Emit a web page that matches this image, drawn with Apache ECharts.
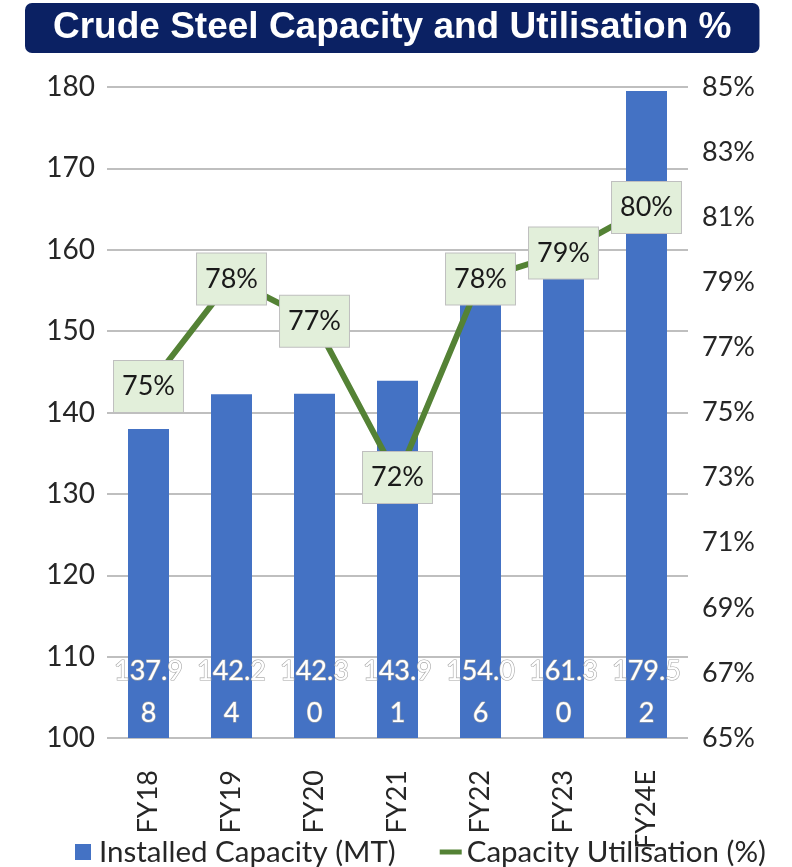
<!DOCTYPE html>
<html>
<head>
<meta charset="utf-8">
<script src="https://cdn.jsdelivr.net/npm/echarts@6/dist/echarts.min.js"></script>
<style>
  html, body { margin: 0; padding: 0; background: #fff; }
  #main { width: 792px; height: 867px; }
</style>
</head>
<body>
<div id="main"></div>
<script>
// data
var years = ['FY18', 'FY19', 'FY20', 'FY21', 'FY22', 'FY23', 'FY24E'];
var capacity = [137.98, 142.24, 142.30, 143.91, 154.06, 161.30, 179.52];
// where the green line sits against the right-hand axis
var utilisation = [75.8, 79.1, 77.8, 73.0, 79.1, 79.9, 81.3];
// the text printed in the green boxes
var utilLabels = ['75%', '78%', '77%', '72%', '78%', '79%', '80%'];

var FONT = 'Lato, "Open Sans", sans-serif';

var myChart = echarts.init(document.getElementById('main'));

var option = {
    animation: false,
    title: {
        text: 'Crude Steel Capacity and Utilisation %',
        left: 25,
        top: 3,
        padding: [6, 28, 6, 28],
        backgroundColor: '#0b2163',
        borderRadius: 7,
        textStyle: {
            color: '#fff',
            fontFamily: 'Liberation Sans, Arial, sans-serif',
            fontWeight: 'bold',
            fontSize: 37,
            lineHeight: 38
        }
    },
    legend: {
        top: 832,
        left: 70,
        itemGap: 44,
        itemWidth: 22,
        itemHeight: 16,
        textStyle: { fontFamily: FONT, fontSize: 29.5, color: '#262626' },
        data: [
            { name: 'Installed Capacity (MT)', icon: 'path://M0,0H10V10H0Z' },
            { name: 'Capacity Utilisation (%)', icon: 'path://M0,0H22V5H0Z' }
        ]
    },
    grid: {
        left: 107,
        right: 104,
        top: 87,
        bottom: 129
    },
    xAxis: {
        type: 'category',
        data: years,
        axisLine: { show: false },
        axisTick: { show: false },
        axisLabel: {
            rotate: 90,
            margin: 32,
            fontFamily: FONT,
            fontSize: 27,
            color: '#262626'
        }
    },
    yAxis: [
        {
            type: 'value',
            min: 100,
            max: 180,
            interval: 10,
            axisLine: { show: false },
            axisTick: { show: false },
            axisLabel: { margin: 12, fontFamily: FONT, fontSize: 28, color: '#262626' },
            splitLine: { lineStyle: { color: '#bfbfbf', width: 2 } }
        },
        {
            type: 'value',
            min: 65,
            max: 85,
            interval: 2,
            position: 'right',
            axisLine: { show: false },
            axisTick: { show: false },
            splitLine: { show: false },
            axisLabel: {
                margin: 14,
                fontFamily: FONT,
                fontSize: 27,
                color: '#262626',
                formatter: '{value}%'
            }
        }
    ],
    series: [
        {
            name: 'Installed Capacity (MT)',
            type: 'bar',
            data: capacity,
            barWidth: 41,
            itemStyle: { color: '#4472c4' },
            label: {
                show: true,
                position: 'insideBottom',
                distance: 4,
                fontFamily: FONT,
                fontSize: 27,
                lineHeight: 42,
                color: '#fff',
                textBorderColor: '#a6a6a6',
                textBorderWidth: 1.2,
                formatter: function (p) {
                    var s = p.value.toFixed(2);
                    return s.slice(0, 5) + '\n' + s.slice(5);
                }
            }
        },
        {
            name: 'Capacity Utilisation (%)',
            type: 'line',
            yAxisIndex: 1,
            data: utilisation,
            symbol: 'circle',
            symbolSize: 1,
            z: 5,
            lineStyle: { color: '#548235', width: 6 },
            itemStyle: { color: '#548235' },
            label: {
                show: true,
                position: 'inside',
                fontFamily: FONT,
                fontSize: 27,
                color: '#1a1a1a',
                backgroundColor: '#e2efda',
                borderColor: '#bfbfbf',
                borderWidth: 1,
                padding: [12, 8, 12, 8],
                formatter: function (p) { return utilLabels[p.dataIndex]; }
            }
        }
    ]
};

myChart.setOption(option);
</script>
</body>
</html>
